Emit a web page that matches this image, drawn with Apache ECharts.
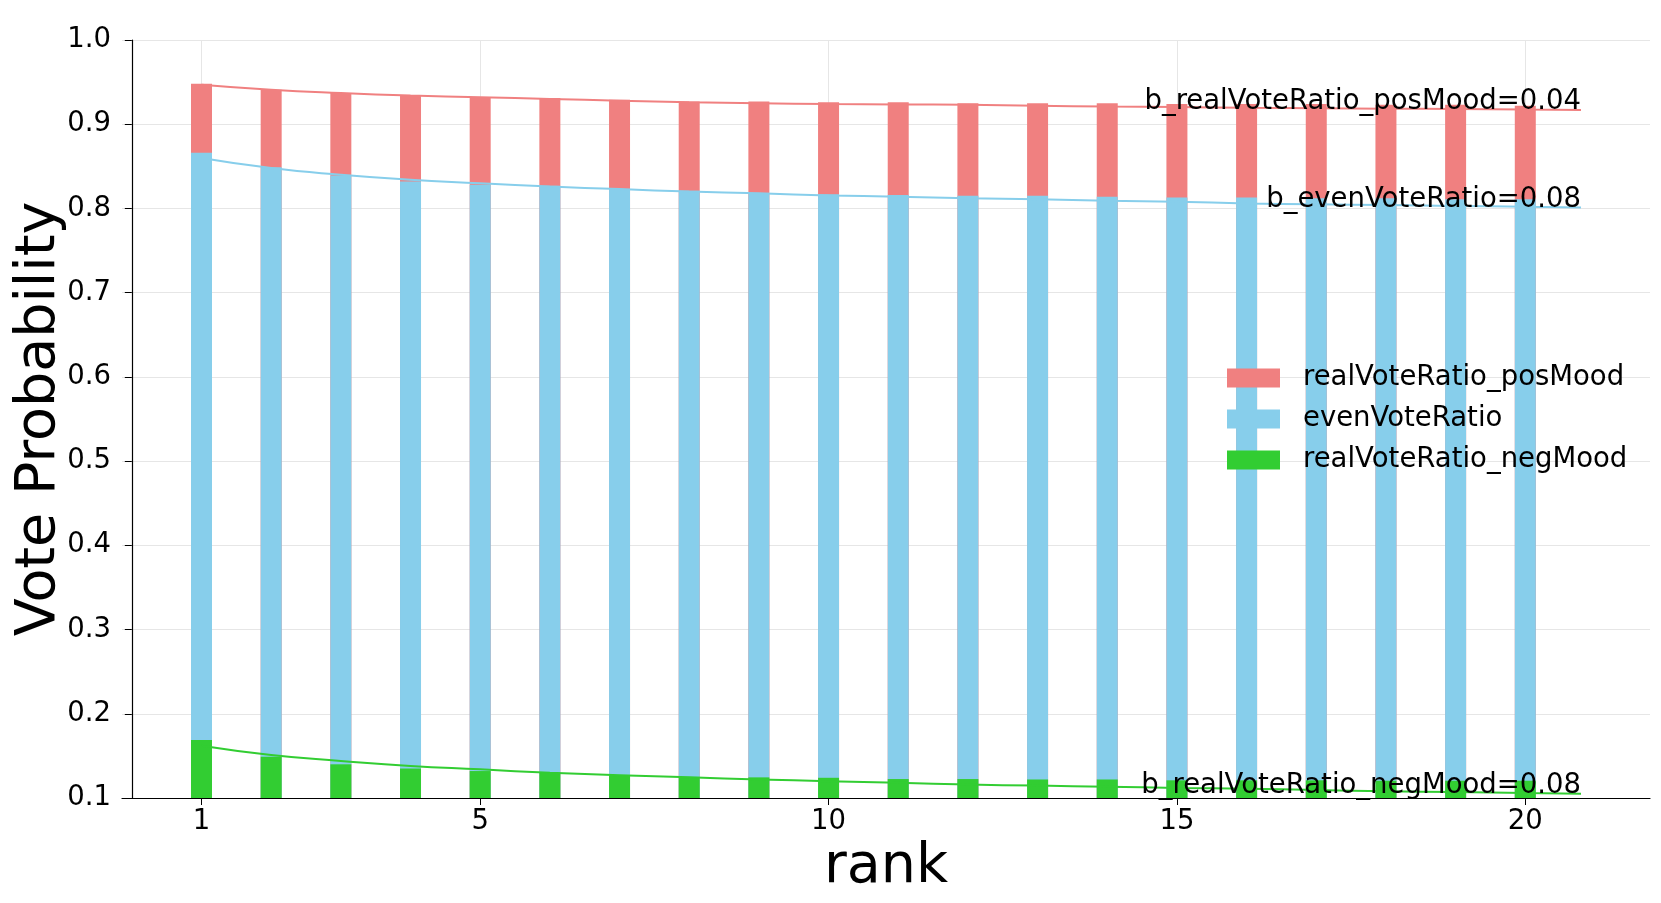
<!DOCTYPE html>
<html>
<head>
<meta charset="utf-8">
<script src="https://cdn.jsdelivr.net/npm/echarts@6/dist/echarts.min.js"></script>
<style>
  html, body { margin: 0; padding: 0; background: #fff; }
  #main { width: 1661px; height: 903px; }
</style>
</head>
<body>
<div id="main"></div>
<script>
// rank 1..20
var ranks = [1,2,3,4,5,6,7,8,9,10,11,12,13,14,15,16,17,18,19,20];
var xTicks = [1, 5, 10, 15, 20];

// bar heights
var posMood  = [0.948,0.941,0.937,0.934,0.932,0.931,0.929,0.927,0.927,0.926,0.926,0.925,0.925,0.925,0.924,0.924,0.924,0.923,0.923,0.922];
var evenVote = [0.866,0.849,0.839,0.832,0.828,0.827,0.823,0.821,0.818,0.817,0.816,0.815,0.815,0.814,0.813,0.813,0.812,0.812,0.811,0.811];
var negMood  = [0.169,0.149,0.140,0.135,0.132,0.130,0.127,0.125,0.1245,0.124,0.1225,0.1225,0.122,0.122,0.121,0.121,0.121,0.1205,0.1205,0.1205];

// fitted curves, read at each rank and at the end of the line
var fitX       = [1,2,3,4,5,6,7,8,9,10,11,12,13,14,15,16,17,18,19,20,20.8];
var fitPos     = [0.947,0.941,0.937,0.934,0.932,0.930,0.928,0.926,0.925,0.924,0.9235,0.923,0.922,0.921,0.9205,0.9195,0.919,0.9185,0.918,0.9175,0.917];
var fitEven    = [0.860,0.848,0.840,0.834,0.830,0.826,0.823,0.820,0.818,0.8155,0.814,0.812,0.811,0.809,0.808,0.806,0.805,0.804,0.803,0.802,0.801];
var fitNeg     = [0.162,0.151,0.144,0.138,0.134,0.130,0.127,0.1245,0.122,0.120,0.118,0.116,0.1147,0.1134,0.112,0.111,0.1095,0.108,0.107,0.106,0.105];

var fitLabels = ['b_realVoteRatio_posMood=0.04', 'b_evenVoteRatio=0.08', 'b_realVoteRatio_negMood=0.08'];

var RED = '#F08080', BLUE = '#87CEEB', GREEN = '#32CD32';
var FONT = 'DejaVu Sans';

function pairs(xs, ys) {
    return xs.map(function (x, i) { return [x, ys[i]]; });
}

function barSeries(name, vals, color) {
    return {
        name: name,
        type: 'bar',
        data: pairs(ranks, vals),
        barWidth: 21,
        barGap: '-100%',
        itemStyle: { color: color },
        emphasis: { disabled: true }
    };
}

function fitSeries(name, vals, color, label) {
    return {
        name: name,
        type: 'line',
        data: pairs(fitX, vals),
        smooth: true,
        showSymbol: false,
        symbol: 'none',
        z: 4,
        lineStyle: { color: color, width: 2 },
        endLabel: {
            show: true,
            formatter: label,
            align: 'right',
            distance: 0,
            offset: [0, -8],
            color: '#000',
            fontFamily: FONT,
            fontSize: 27.5
        },
        emphasis: { disabled: true }
    };
}

var myChart = echarts.init(document.getElementById('main'));

var option = {
    animation: false,
    backgroundColor: '#fff',
    textStyle: { fontFamily: FONT },
    grid: {
        left: 122,
        right: 11,
        top: 40,
        bottom: 105,
        containLabel: false,
        outerBoundsMode: 'none'
    },
    legend: {
        orient: 'vertical',
        left: 1222,
        top: 359,
        icon: 'rect',
        itemWidth: 53,
        itemHeight: 19,
        itemGap: 13,
        data: ['realVoteRatio_posMood', 'evenVoteRatio', 'realVoteRatio_negMood'],
        textStyle: {
            fontFamily: FONT,
            fontSize: 27.5,
            color: '#000',
            padding: [0, 0, 0, 18]
        }
    },
    xAxis: {
        type: 'value',
        min: -0.141,
        max: 21.79,
        name: 'rank',
        nameLocation: 'middle',
        nameGap: 42,
        nameMoveOverlap: false,
        nameTextStyle: { fontFamily: FONT, fontSize: 55.5, color: '#000' },
        axisLine: { lineStyle: { color: '#000', width: 1.2 } },
        axisTick: { show: true, length: 7, customValues: xTicks, lineStyle: { color: '#000' } },
        axisLabel: { customValues: xTicks, margin: 10, fontFamily: FONT, fontSize: 27.5, color: '#000' },
        splitLine: { show: true, lineStyle: { color: '#e6e6e6', width: 1 } }
    },
    yAxis: {
        type: 'value',
        min: 0.1,
        max: 1.0,
        interval: 0.1,
        name: 'Vote Probability',
        nameLocation: 'middle',
        nameRotate: 90,
        nameGap: 54,
        nameMoveOverlap: false,
        nameTextStyle: { fontFamily: FONT, fontSize: 55.5, color: '#000' },
        axisLine: { show: true, lineStyle: { color: '#000', width: 1.2 } },
        axisTick: { show: true, length: 7, lineStyle: { color: '#000' } },
        axisLabel: {
            margin: 11,
            fontFamily: FONT,
            fontSize: 27.5,
            color: '#000',
            formatter: function (v) { return v.toFixed(1); }
        },
        splitLine: { show: true, lineStyle: { color: '#e6e6e6', width: 1 } }
    },
    series: [
        barSeries('realVoteRatio_posMood', posMood, RED),
        barSeries('evenVoteRatio', evenVote, BLUE),
        barSeries('realVoteRatio_negMood', negMood, GREEN),
        fitSeries('fit_posMood', fitPos, RED, fitLabels[0]),
        fitSeries('fit_even', fitEven, BLUE, fitLabels[1]),
        fitSeries('fit_negMood', fitNeg, GREEN, fitLabels[2])
    ]
};

myChart.setOption(option);
</script>
</body>
</html>
